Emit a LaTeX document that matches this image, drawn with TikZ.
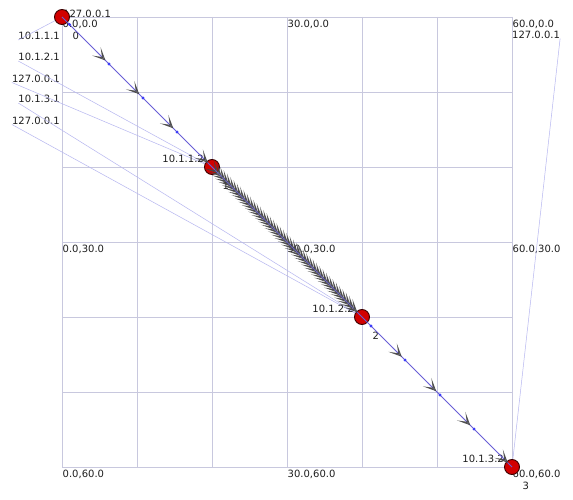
\documentclass[tikz,border=0pt]{standalone}
\usepackage{fontspec}
\setmainfont{DejaVu Sans}
\usepackage{tikz}
\usetikzlibrary{arrows.meta, positioning, calc}
\definecolor{gridgray}{RGB}{200,200,222}
\definecolor{linkblue}{RGB}{104,94,214}
\definecolor{ipblue}{RGB}{182,182,240}
\definecolor{nodered}{RGB}{210,0,0}
\definecolor{nodeedge}{RGB}{60,0,0}
\definecolor{dotblue}{RGB}{60,60,250}
\definecolor{txtgray}{RGB}{30,30,30}
\tikzstyle{packet} = [linkblue, -{Stealth[length=13pt, width=12pt, inset=8pt, color=black!75, fill=black!55, line width=0.8pt]}]

\begin{document}
\begin{tikzpicture}[x=1pt, y=-1pt,
	simnode/.style={circle, draw=nodeedge, fill=nodered, line width=0.9pt, minimum size=15pt, inner sep=0pt},
	txt/.style={inner sep=0pt, text=txtgray, font=\fontsize{10}{12}\selectfont},
	poslbl/.style={txt, anchor=base west},
	iplbl/.style={txt, anchor=base east},
	ipline/.style={ipblue, line width=0.5pt},
	link/.style={linkblue, line width=1pt}
]
\useasboundingbox[fill=white] (0,0) rectangle (573,500);

% Grid, one cell per 10 units
\foreach \g in {0,...,6} {
	\draw[gridgray, line width=0.9pt] (62+75*\g,17) -- (62+75*\g,467);
	\draw[gridgray, line width=0.9pt] (62,17+75*\g) -- (512,17+75*\g);
}

% Position labels
\foreach \i in {0,1,2}
	\foreach \j in {0,1,2} {
		\pgfmathtruncatemacro\cx{30*\i}
		\pgfmathtruncatemacro\cy{30*\j}
		\node[poslbl] (pos\i\j) at (62.5+225*\i, 27.5+225*\j) {\cx.0,\cy.0};
	}

% Nodes
\coordinate (p0) at (62,17);
\coordinate (p1) at (212,167);
\coordinate (p2) at (362,317);
\coordinate (p3) at (512,467);

% Interface addresses on the left
\node[iplbl] (ip0a) at (60,40) {10.1.1.1};
\node[iplbl] (ip1b) at (60,61) {10.1.2.1};
\node[iplbl] (ip1c) at (60,82.5) {127.0.0.1};
\node[iplbl] (ip2b) at (60,103) {10.1.3.1};
\node[iplbl] (ip2c) at (60,124.5) {127.0.0.1};
\node[poslbl] (ip3b) at (512,38.5) {127.0.0.1};
\draw[ipline] (ip0a.base west) -- (p0);
\draw[ipline] (ip1b.base west) -- (p1);
\draw[ipline] (ip1c.base west) -- (p1);
\draw[ipline] (ip2b.base west) -- (p2);
\draw[ipline] (ip2c.base west) -- (p2);
\draw[ipline] (ip3b.base east) -- (p3);

% Addresses next to the nodes
\node[poslbl] (ip0b) at ($(p0)+(1,1)$) {127.0.0.1};
\node[iplbl] (ip1a) at ($(p1)+(-8,-5)$) {10.1.1.2};
\node[iplbl] (ip2a) at ($(p2)+(-8,-5)$) {10.1.2.2};
\node[iplbl] (ip3a) at ($(p3)+(-8,-5)$) {10.1.3.2};

% Node ids
\foreach \k in {0,...,3}
	\node[poslbl] (id\k) at ($(p\k)+(10.5,22.5)$) {\k};

\foreach \k in {0,...,3}
	\node[simnode] (n\k) at (p\k) {};

% Links
\draw[link] (n0.center) -- (n1.center);
\draw[link] (n1.center) -- (n2.center);
\draw[link] (n2.center) -- (n3.center);

% Packets in flight
\begin{scope}[opacity=0.85]
\foreach \t in {0.29,0.515,0.742,0.972}
	\draw[packet] ($(n0)!\t-0.06!(n1)$) -- ($(n0)!\t!(n1)$);
\foreach \t in {0.045,0.067,...,0.99}
	\draw[packet] ($(n1)!\t-0.06!(n2)$) -- ($(n1)!\t!(n2)$);
\foreach \t in {0.265,0.495,0.722,0.972}
	\draw[packet] ($(n2)!\t-0.06!(n3)$) -- ($(n2)!\t!(n3)$);
\end{scope}
\foreach \t in {0.05,0.313,0.54,0.767}
	\fill[dotblue] ($(n0)!\t!(n1)$) circle (1.6);
\foreach \t in {0.06,0.287,0.52,0.747}
	\fill[dotblue] ($(n2)!\t!(n3)$) circle (1.6);
\end{tikzpicture}
\end{document}
